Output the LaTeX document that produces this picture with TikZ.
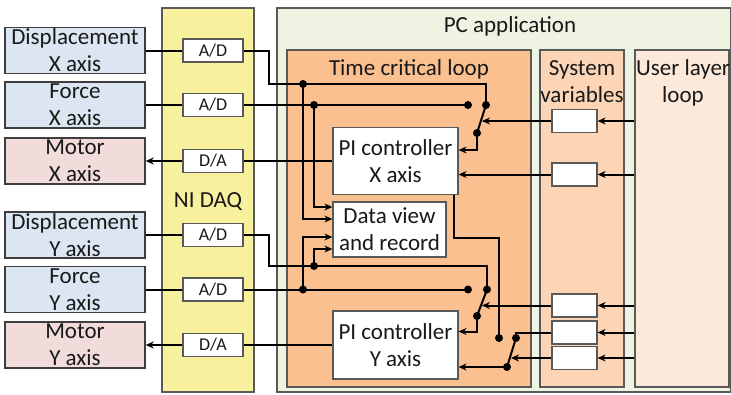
\documentclass[tikz,border=0pt]{standalone}
\usepackage{fontspec}
\setmainfont{Carlito}
\usetikzlibrary{arrows.meta}

\definecolor{sensorfill}{HTML}{DCE6F2}
\definecolor{motorfill}{HTML}{F2DCDB}
\definecolor{daqfill}{HTML}{F7F09C}
\definecolor{pcfill}{HTML}{EEF3E2}
\definecolor{loopfill}{HTML}{FAC090}
\definecolor{varfill}{HTML}{FBD5B5}
\definecolor{userfill}{HTML}{FDE9D9}
\definecolor{edge}{HTML}{595959}

\tikzset{
  every node/.style={font=\fontsize{23}{27}\selectfont, inner sep=0pt, text=black!90},
  panel/.style={draw=edge, line width=1.2pt},
  device/.style={draw=edge!70!black, line width=1.5pt, minimum width=140pt, minimum height=46pt, align=center},
  conv/.style={draw=edge, fill=white, line width=1.2pt, minimum width=60pt, minimum height=23pt, font=\fontsize{18}{20}\selectfont},
  block/.style={draw=edge, fill=white, line width=1.2pt, align=center},
  var/.style={draw=edge, fill=white, line width=1.2pt, minimum width=45pt, minimum height=23pt},
  contact/.style={circle, fill=black, inner sep=0pt, minimum size=8pt},
  wire/.style={line width=2pt},
  sig/.style={wire, -{Stealth[length=8pt,width=7pt]}},
}

\begin{document}
\begin{tikzpicture}[x=1pt, y=-1pt]
    \useasboundingbox (0,0) rectangle (731,394);

    % Blocos de fundo
    \node[panel, fill=daqfill, minimum width=92pt, minimum height=384pt] (daq) at (208,200) {};
    \node[panel, fill=pcfill, minimum width=454pt, minimum height=384pt] (pc) at (504,200) {};
    \node[panel, fill=loopfill, minimum width=244pt, minimum height=337pt] (tcl) at (409,218.5) {};
    \node[panel, fill=varfill, minimum width=84pt, minimum height=337pt] (sysvar) at (582,218.5) {};
    \node[panel, fill=userfill, minimum width=94pt, minimum height=337pt] (user) at (682,218.5) {};

    % Titulos dos blocos
    \node[anchor=base] (daqlabel) at (208,207) {NI DAQ};
    \node[anchor=base] (pclabel) at (510,32) {PC application};
    \node[anchor=base] (tcllabel) at (409,75) {Time critical loop};
    \node[align=center] (varlabel) at (582,82) {System\\variables};
    \node[align=center] (userlabel) at (683,83) {User layer\\loop};

    % Sensores e motores
    \node[device, fill=sensorfill] (dispX) at (75,50.5) {Displacement\\X axis};
    \node[device, fill=sensorfill] (forceX) at (75,105) {Force\\X axis};
    \node[device, fill=motorfill] (motorX) at (75,161) {Motor\\X axis};
    \node[device, fill=sensorfill] (dispY) at (75,235) {Displacement\\Y axis};
    \node[device, fill=sensorfill] (forceY) at (75,289.5) {Force\\Y axis};
    \node[device, fill=motorfill] (motorY) at (75,345) {Motor\\Y axis};

    % Conversores
    \node[conv] (adDX) at (213,50.5) {A/D};
    \node[conv] (adFX) at (213,105) {A/D};
    \node[conv] (daX) at (213,161) {D/A};
    \node[conv] (adDY) at (213,235) {A/D};
    \node[conv] (adFY) at (213,289.5) {A/D};
    \node[conv] (daY) at (213,345) {D/A};

    % Controladores e registro
    \node[block, minimum width=125pt, minimum height=67pt] (piX) at (395.5,161) {PI controller\\X axis};
    \node[block, minimum width=113pt, minimum height=55pt] (data) at (389.5,229.5) {Data view\\and record};
    \node[block, minimum width=125pt, minimum height=68pt] (piY) at (395.5,345) {PI controller\\Y axis};

    % Variaveis do sistema
    \node[var] (sv1) at (574.5,121) {};
    \node[var] (sv2) at (574.5,174.5) {};
    \node[var] (sv3) at (574.5,305.5) {};
    \node[var] (sv4) at (574.5,332.5) {};
    \node[var] (sv5) at (574.5,358) {};

    % Derivacoes e contatos das chaves
    \node[contact] (j1) at (303,84) {};
    \node[contact] (j2) at (314,105) {};
    \node[contact] (j3) at (314,266) {};
    \node[contact] (j4) at (303,289.5) {};
    \node[contact] (s1a) at (468,105) {};
    \node[contact] (s1b) at (486,105) {};
    \node[contact] (s1c) at (477,133) {};
    \node[contact] (s3a) at (468,289.5) {};
    \node[contact] (s3b) at (487,289.5) {};
    \node[contact] (s3c) at (477,316) {};
    \node[contact] (s4a) at (499,338) {};
    \node[contact] (s4b) at (516,338) {};
    \node[contact] (s4c) at (507,367) {};

    % Ligacoes do eixo X
    \draw[wire] (dispX) -- (adDX);
    \draw[wire] (forceX) -- (adFX);
    \draw[sig] (daX) -- (motorX);
    \draw[wire] (adDX.east) -- ++(25,0) |- (j1.center) -| (s1b.center);
    \draw[wire] (adFX.east) -- (s1a.center);
    \draw[sig] (j1.center) |- ([yshift=10.5pt]data.west);
    \draw[sig] (j2.center) |- ([yshift=22.5pt]data.west);
    \draw[wire] (s1c.center) -- (s1b.center);
    \draw[sig] (sv1.west) -- ([xshift=5pt]s1c |- sv1.west);
    \draw[sig] (s1c.center) |- ([yshift=11pt]piX.east);
    \draw[sig] (sv2.west) -- (sv2.west -| piX.east);
    \draw[wire] (piX.west) -- (daX.east);
    \draw[wire] ([xshift=-5pt]piX.south east) -- ++(0,43) -| (s4a.center);

    % Ligacoes do eixo Y
    \draw[wire] (dispY) -- (adDY);
    \draw[wire] (forceY) -- (adFY);
    \draw[sig] (daY) -- (motorY);
    \draw[wire] (adDY.east) -- ++(25,0) |- (j3.center) -| (s3b.center);
    \draw[wire] (adFY.east) -- (s3a.center);
    \draw[sig] (j3.center) |- ([yshift=-19.5pt]data.west);
    \draw[sig] (j4.center) |- ([yshift=-7.5pt]data.west);
    \draw[wire] (s3c.center) -- (s3b.center);
    \draw[sig] (sv3.west) -- ([xshift=5pt]s3c |- sv3.west);
    \draw[sig] (s3c.center) |- ([yshift=13.5pt]piY.east);
    \draw[wire] (s4c.center) -- (s4b.center);
    \draw[wire] (sv4.west) -| (s4b.center);
    \draw[sig] (sv5.west) -- ([xshift=4pt]s4c |- sv5.west);
    \draw[sig] (s4c.center) -- (s4c -| piY.east);
    \draw[wire] (piY.west) -- (daY.east);

    % Camada de usuario
    \foreach \v in {sv1,sv2,sv3,sv4,sv5}
        \draw[sig] (user.west |- \v) -- (\v.east);

\end{tikzpicture}
\end{document}
